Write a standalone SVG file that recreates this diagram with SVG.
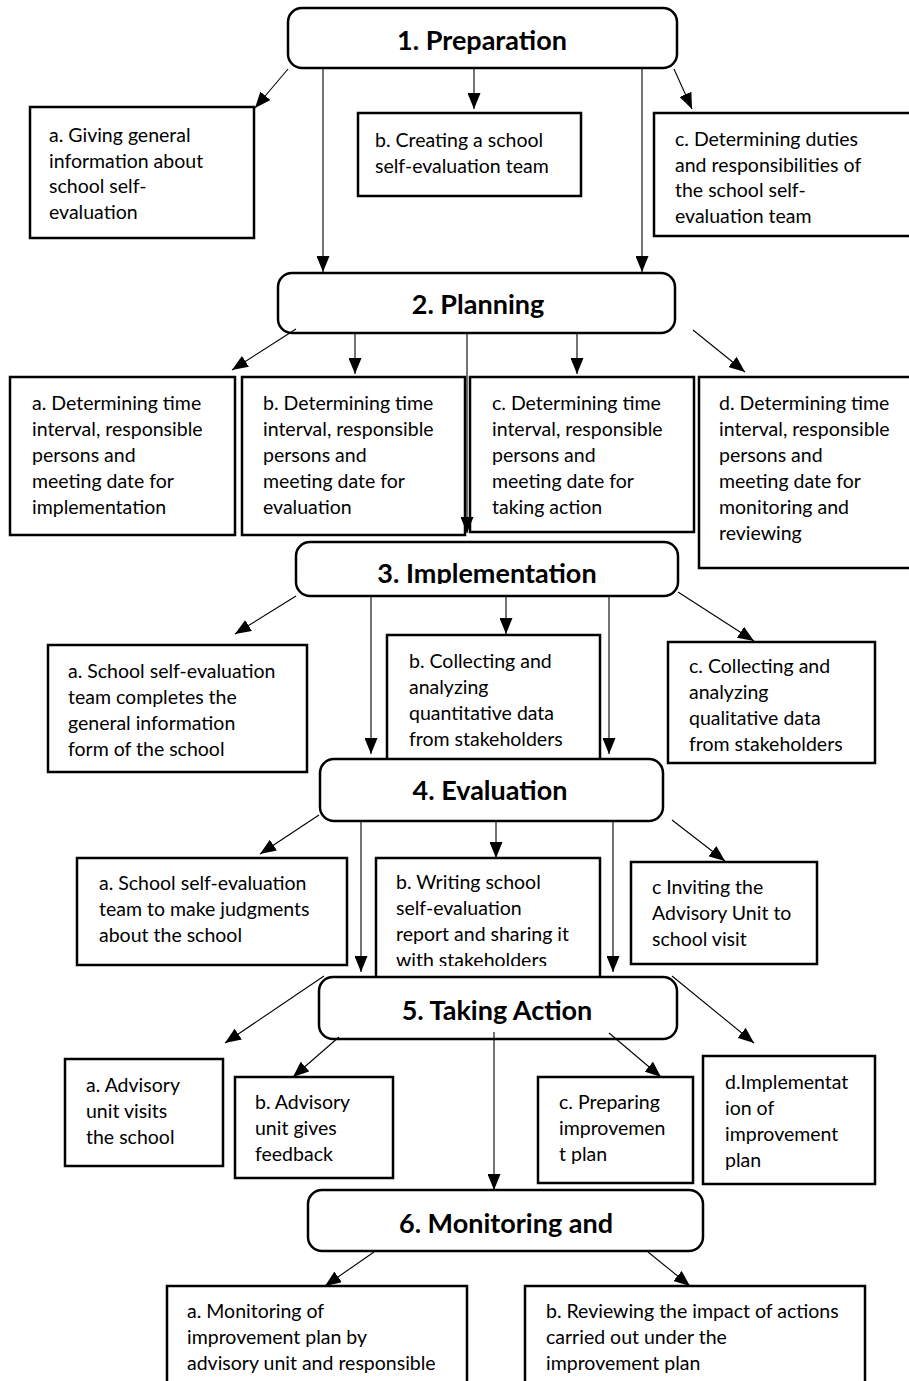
<svg xmlns="http://www.w3.org/2000/svg" width="909" height="1381" viewBox="0 0 909 1381">
<style>
.box{fill:#fff;stroke:#000;stroke-width:2.5}
.node{fill:#fff;stroke:#000;stroke-width:2.5}
.t{font-family:Lato,"Liberation Sans",sans-serif;font-size:19.5px;fill:#000}
.h{font-family:Lato,"Liberation Sans",sans-serif;font-size:27px;font-weight:bold;fill:#000;text-anchor:middle}
.c{fill:none;stroke:#000;stroke-width:1.1;marker-end:url(#ah)}
</style>
<defs>
<marker id="ah" viewBox="0 0 16 13" refX="16" refY="6.5" markerWidth="16" markerHeight="13" markerUnits="userSpaceOnUse" orient="auto">
<path d="M0,0 L16,6.5 L0,13 z" fill="#000"/>
</marker>
<clipPath id="clipImpl"><rect x="290" y="540" width="400" height="44"/></clipPath>
<clipPath id="clipEvalB"><rect x="370" y="850" width="240" height="116"/></clipPath>
</defs>

<g id="prep-a"><rect class="box" x="30" y="107" width="224" height="131"/><text class="t" x="49" y="142"><tspan x="49">a. Giving general</tspan><tspan x="49" dy="25.5">information about</tspan><tspan x="49" dy="25.5">school self-</tspan><tspan x="49" dy="25.5">evaluation</tspan></text></g>
<g id="prep-b"><rect class="box" x="358" y="113" width="223" height="83"/><text class="t" x="375" y="147"><tspan x="375">b. Creating a school</tspan><tspan x="375" dy="25.5">self-evaluation team</tspan></text></g>
<g id="prep-c"><rect class="box" x="654" y="113" width="262" height="123"/><text class="t" x="675" y="146"><tspan x="675">c. Determining duties</tspan><tspan x="675" dy="25.5">and responsibilities of</tspan><tspan x="675" dy="25.5">the school self-</tspan><tspan x="675" dy="25.5">evaluation team</tspan></text></g>

<g id="plan-a"><rect class="box" x="10" y="377" width="225" height="158"/><text class="t" x="32" y="410"><tspan x="32">a. Determining time</tspan><tspan x="32" dy="26">interval, responsible</tspan><tspan x="32" dy="26">persons and</tspan><tspan x="32" dy="26">meeting date for</tspan><tspan x="32" dy="26">implementation</tspan></text></g>
<g id="plan-b"><rect class="box" x="242" y="377" width="223" height="158"/><text class="t" x="263" y="410"><tspan x="263">b. Determining time</tspan><tspan x="263" dy="26">interval, responsible</tspan><tspan x="263" dy="26">persons and</tspan><tspan x="263" dy="26">meeting date for</tspan><tspan x="263" dy="26">evaluation</tspan></text></g>
<g id="plan-c"><rect class="box" x="470" y="377" width="224" height="155"/><text class="t" x="492" y="410"><tspan x="492">c. Determining time</tspan><tspan x="492" dy="26">interval, responsible</tspan><tspan x="492" dy="26">persons and</tspan><tspan x="492" dy="26">meeting date for</tspan><tspan x="492" dy="26">taking action</tspan></text></g>
<g id="plan-d"><rect class="box" x="699" y="377" width="220" height="191"/><text class="t" x="719" y="410"><tspan x="719">d. Determining time</tspan><tspan x="719" dy="26">interval, responsible</tspan><tspan x="719" dy="26">persons and</tspan><tspan x="719" dy="26">meeting date for</tspan><tspan x="719" dy="26">monitoring and</tspan><tspan x="719" dy="26">reviewing</tspan></text></g>

<g id="impl-a"><rect class="box" x="48" y="645" width="259" height="127"/><text class="t" x="68" y="678"><tspan x="68">a. School self-evaluation</tspan><tspan x="68" dy="26">team completes the</tspan><tspan x="68" dy="26">general information</tspan><tspan x="68" dy="26">form of the school</tspan></text></g>
<g id="impl-b"><rect class="box" x="387" y="635" width="213" height="125"/><text class="t" x="409" y="668"><tspan x="409">b. Collecting and</tspan><tspan x="409" dy="26">analyzing</tspan><tspan x="409" dy="26">quantitative data</tspan><tspan x="409" dy="26">from stakeholders</tspan></text></g>
<g id="impl-c"><rect class="box" x="668" y="642" width="207" height="121"/><text class="t" x="689" y="673"><tspan x="689">c. Collecting and</tspan><tspan x="689" dy="26">analyzing</tspan><tspan x="689" dy="26">qualitative data</tspan><tspan x="689" dy="26">from stakeholders</tspan></text></g>

<g id="eval-a"><rect class="box" x="77" y="858" width="270" height="107"/><text class="t" x="99" y="890"><tspan x="99">a. School self-evaluation</tspan><tspan x="99" dy="26">team to make judgments</tspan><tspan x="99" dy="26">about the school</tspan></text></g>
<g id="eval-b"><rect class="box" x="376" y="858" width="224" height="125"/><text class="t" x="396" y="889" clip-path="url(#clipEvalB)"><tspan x="396">b. Writing school</tspan><tspan x="396" dy="26">self-evaluation</tspan><tspan x="396" dy="26">report and sharing it</tspan><tspan x="396" dy="26">with stakeholders</tspan></text></g>
<g id="eval-c"><rect class="box" x="631" y="862" width="186" height="102"/><text class="t" x="652" y="894"><tspan x="652">c Inviting the</tspan><tspan x="652" dy="26">Advisory Unit to</tspan><tspan x="652" dy="26">school visit</tspan></text></g>

<g id="act-a"><rect class="box" x="65" y="1059" width="158" height="107"/><text class="t" x="86" y="1092"><tspan x="86">a. Advisory</tspan><tspan x="86" dy="26">unit visits</tspan><tspan x="86" dy="26">the school</tspan></text></g>
<g id="act-b"><rect class="box" x="235" y="1077" width="158" height="101"/><text class="t" x="255" y="1109"><tspan x="255">b. Advisory</tspan><tspan x="255" dy="26">unit gives</tspan><tspan x="255" dy="26">feedback</tspan></text></g>
<g id="act-c"><rect class="box" x="538" y="1077" width="155" height="106"/><text class="t" x="559" y="1109"><tspan x="559">c. Preparing</tspan><tspan x="559" dy="26">improvemen</tspan><tspan x="559" dy="26">t plan</tspan></text></g>
<g id="act-d"><rect class="box" x="703" y="1056" width="172" height="128"/><text class="t" x="725" y="1089"><tspan x="725">d.Implementat</tspan><tspan x="725" dy="26">ion of</tspan><tspan x="725" dy="26">improvement</tspan><tspan x="725" dy="26">plan</tspan></text></g>

<g id="mon-a"><rect class="box" x="167" y="1286" width="300" height="120"/><text class="t" x="187" y="1318"><tspan x="187">a. Monitoring of</tspan><tspan x="187" dy="26">improvement plan by</tspan><tspan x="187" dy="26">advisory unit and responsible</tspan></text></g>
<g id="mon-b"><rect class="box" x="525" y="1286" width="340" height="120"/><text class="t" x="546" y="1318"><tspan x="546">b. Reviewing the impact of actions</tspan><tspan x="546" dy="26">carried out under the</tspan><tspan x="546" dy="26">improvement plan</tspan></text></g>

<g id="n1"><rect class="node" x="288" y="8" width="389" height="60" rx="14"/><text class="h" x="482" y="50">1. Preparation</text></g>
<g id="n2"><rect class="node" x="278" y="273" width="397" height="60" rx="14"/><text class="h" x="478" y="314">2. Planning</text></g>
<g id="n3"><rect class="node" x="296" y="542" width="382" height="54" rx="14"/><text class="h" x="487" y="583" clip-path="url(#clipImpl)">3. Implementation</text></g>
<g id="n4"><rect class="node" x="320" y="759" width="343" height="62" rx="14"/><text class="h" x="490" y="800">4. Evaluation</text></g>
<g id="n5"><rect class="node" x="319" y="977" width="358" height="62" rx="14"/><text class="h" x="497" y="1020">5. Taking Action</text></g>
<g id="n6"><rect class="node" x="308" y="1190" width="395" height="61" rx="14"/><text class="h" x="506" y="1233">6. Monitoring and</text></g>

<g id="connectors">
<line class="c" x1="288" y1="69" x2="255" y2="108"/>
<line class="c" x1="323" y1="69" x2="323" y2="272"/>
<line class="c" x1="474" y1="69" x2="474" y2="109"/>
<line class="c" x1="642" y1="69" x2="642" y2="272"/>
<line class="c" x1="674" y1="69" x2="692" y2="109"/>

<line class="c" x1="296" y1="329" x2="232" y2="370"/>
<line class="c" x1="355" y1="334" x2="355" y2="374"/>
<line class="c" x1="467" y1="334" x2="467" y2="533"/>
<line class="c" x1="577" y1="334" x2="577" y2="374"/>
<line class="c" x1="693" y1="330" x2="745" y2="372"/>

<line class="c" x1="296" y1="596" x2="235" y2="634"/>
<line class="c" x1="371" y1="597" x2="371" y2="754"/>
<line class="c" x1="506" y1="597" x2="506" y2="634"/>
<line class="c" x1="609" y1="597" x2="609" y2="754"/>
<line class="c" x1="678" y1="592" x2="754" y2="641"/>

<line class="c" x1="319" y1="815" x2="260" y2="854"/>
<line class="c" x1="361" y1="822" x2="361" y2="972"/>
<line class="c" x1="496" y1="822" x2="496" y2="858"/>
<line class="c" x1="613" y1="822" x2="613" y2="972"/>
<line class="c" x1="672" y1="820" x2="725" y2="861"/>

<line class="c" x1="324" y1="976" x2="225" y2="1043"/>
<line class="c" x1="672" y1="976" x2="754" y2="1043"/>
<line class="c" x1="339" y1="1037" x2="293" y2="1077"/>
<line class="c" x1="494" y1="1032" x2="494" y2="1190"/>
<line class="c" x1="609" y1="1033" x2="661" y2="1077"/>

<line class="c" x1="374" y1="1252" x2="325" y2="1286"/>
<line class="c" x1="648" y1="1252" x2="690" y2="1286"/>
</g>
</svg>
